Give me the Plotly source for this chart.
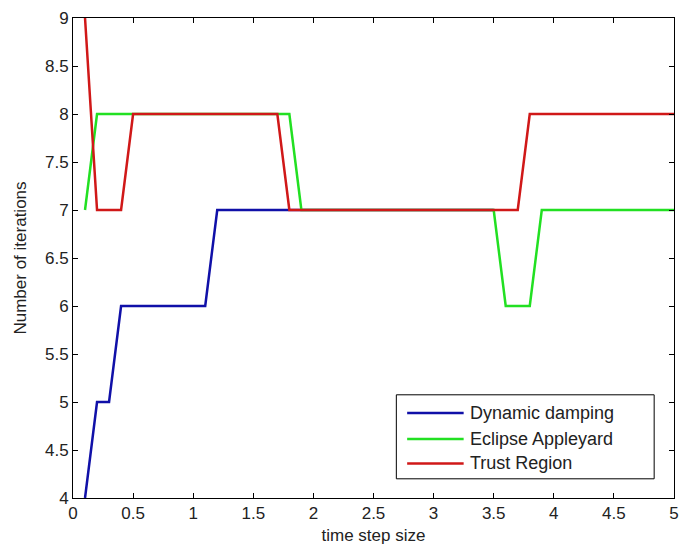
import plotly.graph_objects as go

x = [round(0.1 * i, 1) for i in range(1, 51)]

# Dynamic damping is hidden under the other curves after x=1.8; shown up to 3.5
x_dd = [round(0.1 * i, 1) for i in range(1, 36)]
dynamic_damping = [4, 5, 5, 6, 6, 6, 6, 6, 6, 6, 6, 7, 7, 7, 7, 7, 7, 7, 7, 7,
                   7, 7, 7, 7, 7, 7, 7, 7, 7, 7, 7, 7, 7, 7, 7]
eclipse_appleyard = [7, 8, 8, 8, 8, 8, 8, 8, 8, 8, 8, 8, 8, 8, 8, 8, 8, 8, 7, 7,
                     7, 7, 7, 7, 7, 7, 7, 7, 7, 7, 7, 7, 7, 7, 7, 6, 6, 6, 7, 7,
                     7, 7, 7, 7, 7, 7, 7, 7, 7, 7]
trust_region = [9, 7, 7, 7, 8, 8, 8, 8, 8, 8, 8, 8, 8, 8, 8, 8, 8, 7, 7, 7,
                7, 7, 7, 7, 7, 7, 7, 7, 7, 7, 7, 7, 7, 7, 7, 7, 7, 8, 8, 8,
                8, 8, 8, 8, 8, 8, 8, 8, 8, 8]

series_names = ["Dynamic damping", "Eclipse Appleyard", "Trust Region"]
series_colors = ["#1010a8", "#22e022", "#d01818"]

x_ticks = [0, 0.5, 1, 1.5, 2, 2.5, 3, 3.5, 4, 4.5, 5]
y_ticks = [4, 4.5, 5, 5.5, 6, 6.5, 7, 7.5, 8, 8.5, 9]

FONT = "Liberation Sans"
TXT = "#222"

fig = go.Figure()
for xs, ys, name, color in zip([x_dd, x, x],
                               [dynamic_damping, eclipse_appleyard, trust_region],
                               series_names, series_colors):
    fig.add_trace(go.Scatter(x=xs, y=ys, mode="lines", name=name,
                             line=dict(color=color, width=2.5), showlegend=False))

axis_common = dict(showline=True, linecolor="black", linewidth=1, mirror="ticks",
                   ticks="inside", ticklen=5, tickcolor="black", showgrid=False,
                   zeroline=False, tickfont=dict(family=FONT, size=17, color=TXT))

fig.update_xaxes(range=[0, 5], tickvals=x_ticks, ticktext=[f"{v:g}" for v in x_ticks],
                 title=dict(text="time step size", font=dict(family=FONT, size=17, color=TXT), standoff=6),
                 **axis_common)
fig.update_yaxes(range=[4, 9], tickvals=y_ticks, ticktext=[f"{v:g}" for v in y_ticks],
                 title=dict(text="Number of iterations", font=dict(family=FONT, size=17, color=TXT), standoff=14),
                 **axis_common)

# Custom MATLAB-style legend box
shapes = [dict(type="rect", xref="paper", yref="paper", x0=0.538, x1=0.967, y0=0.040, y1=0.215,
               line=dict(color="black", width=1), fillcolor="white", layer="above")]
annotations = []
row_y = [0.177, 0.123, 0.072]
for name, color, yy in zip(series_names, series_colors, row_y):
    shapes.append(dict(type="line", xref="paper", yref="paper", x0=0.556, x1=0.650, y0=yy, y1=yy,
                       line=dict(color=color, width=2.5), layer="above"))
    annotations.append(dict(xref="paper", yref="paper", x=0.658, y=yy, xanchor="left", yanchor="middle",
                            text=name, showarrow=False, font=dict(family=FONT, size=18, color=TXT)))

fig.update_layout(
    width=688, height=550,
    margin=dict(l=73, r=9, t=18, b=52),
    plot_bgcolor="white", paper_bgcolor="white",
    showlegend=False,
    shapes=shapes, annotations=annotations,
)

fig.write_html("out.html")
